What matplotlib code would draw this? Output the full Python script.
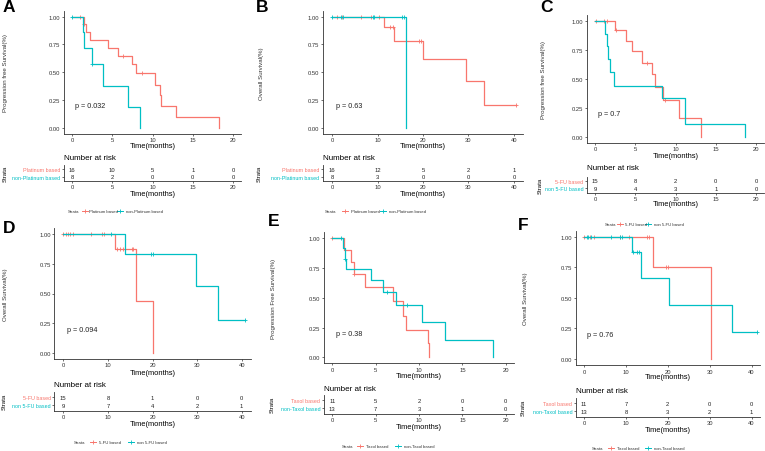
import matplotlib.pyplot as plt
from matplotlib.lines import Line2D

plt.rcParams['font.family'] = ['Liberation Sans', 'DejaVu Sans']

W, H = 765, 452
RED, CYAN = '#F8766D', '#00BFC4'
INK = '#333333'

# ---------------- data ----------------
# A: PFS, platinum vs non-platinum
a_names = ['Platinum based', 'non-Platinum based']
a_red_t = [1.5, 1.7, 2.2, 4.5, 5.7, 7.4, 8.0, 10.3, 10.9, 11.1, 12.9, 18.3]
a_red_s = [0.93, 0.86, 0.79, 0.72, 0.65, 0.57, 0.49, 0.39, 0.30, 0.20, 0.10, 0.0]
a_red_ct = [1.0, 1.5, 6.3, 8.7]
a_red_cs = [1.0, 0.93, 0.65, 0.49]
a_cyan_t = [1.3, 1.45, 2.45, 3.8, 7.0, 8.4]
a_cyan_s = [0.86, 0.72, 0.57, 0.38, 0.19, 0.0]
a_cyan_ct = [0.0, 2.5]
a_cyan_cs = [1.0, 0.57]
a_risk_red = [16, 10, 5, 1, 0]
a_risk_cyan = [8, 2, 0, 0, 0]

# B: OS, platinum vs non-platinum
b_names = ['Platinum based', 'non-Platinum based']
b_red_t = [11.5, 13.7, 19.9, 29.5, 33.5]
b_red_s = [0.91, 0.78, 0.62, 0.42, 0.21]
b_red_ct = [1.0, 2.2, 6.3, 8.6, 10.4, 12.7, 13.3, 19.2, 19.5, 40.5]
b_red_cs = [1, 1, 1, 1, 1, 0.91, 0.91, 0.78, 0.78, 0.21]
b_cyan_t = [16.2]
b_cyan_s = [0.0]
b_cyan_ct = [0.0, 1.9, 2.4, 8.9, 9.2, 15.3, 15.8]
b_cyan_cs = [1, 1, 1, 1, 1, 1, 1]
b_risk_red = [16, 12, 5, 2, 1]
b_risk_cyan = [8, 3, 0, 0, 0]

# C: PFS, 5-FU vs non 5-FU
c_names = ['5-FU based', 'non 5-FU based']
c_red_t = [2.5, 3.8, 4.6, 5.8, 7.1, 7.5, 8.5, 10.4, 13.2]
c_red_s = [0.92, 0.83, 0.74, 0.64, 0.54, 0.43, 0.32, 0.16, 0.0]
c_red_ct = [0.1, 1.1, 1.5, 2.6, 6.4, 8.7]
c_red_cs = [1, 1, 1, 0.92, 0.64, 0.32]
c_cyan_t = [1.25, 1.45, 1.6, 1.8, 2.4, 8.3, 11.2, 18.6]
c_cyan_s = [0.89, 0.78, 0.67, 0.56, 0.44, 0.33, 0.11, 0.0]
c_cyan_ct = []
c_cyan_cs = []
c_risk_red = [15, 8, 2, 0, 0]
c_risk_cyan = [9, 4, 3, 1, 0]

# D: OS, 5-FU vs non 5-FU
d_names = ['5-FU based', 'non 5-FU based']
d_red_t = [11.6, 16.2, 20.2]
d_red_s = [0.875, 0.44, 0.0]
d_red_ct = [0, 0.6, 1.1, 1.6, 2.2, 6.1, 8.6, 9.1, 12.0, 12.7, 13.4, 15.3, 15.7]
d_red_cs = [1, 1, 1, 1, 1, 1, 1, 1, 0.875, 0.875, 0.875, 0.875, 0.875]
d_cyan_t = [13.8, 29.7, 34.6]
d_cyan_s = [0.83, 0.56, 0.28]
d_cyan_ct = [10.7, 19.6, 20.0, 40.8]
d_cyan_cs = [1, 0.83, 0.83, 0.28]
d_risk_red = [15, 8, 1, 0, 0]
d_risk_cyan = [9, 7, 4, 2, 1]

# E: PFS, taxol vs non-taxol
e_names = ['Taxol based', 'non-Taxol based']
e_red_t = [1.4, 2.2, 2.5, 3.8, 7.0, 8.1, 8.5, 11.0, 11.1]
e_red_s = [0.9, 0.8, 0.7, 0.59, 0.47, 0.35, 0.23, 0.12, 0.0]
e_red_ct = [0.0, 2.5]
e_red_cs = [1.0, 0.7]
e_cyan_t = [1.2, 1.45, 1.6, 4.5, 5.8, 7.4, 10.3, 13.0, 18.5]
e_cyan_s = [0.92, 0.83, 0.74, 0.65, 0.55, 0.44, 0.30, 0.15, 0.0]
e_cyan_ct = [1.0, 1.45, 6.3, 8.65]
e_cyan_cs = [1.0, 0.83, 0.55, 0.44]
e_risk_red = [11, 5, 2, 0, 0]
e_risk_cyan = [13, 7, 3, 1, 0]

# F: OS, taxol vs non-taxol
f_names = ['Taxol based', 'non-Taxol based']
f_red_t = [16.4, 30.2]
f_red_s = [0.75, 0.0]
f_red_ct = [0.0, 1.4, 2.3, 8.6, 10.7, 15.1, 15.6, 19.5, 20.1]
f_red_cs = [1, 1, 1, 1, 1, 1, 1, 0.75, 0.75]
f_cyan_t = [11.5, 13.7, 20.3, 35.2]
f_cyan_s = [0.875, 0.66, 0.44, 0.22]
f_cyan_ct = [0.7, 1.0, 1.6, 6.4, 8.6, 9.0, 11.7, 12.7, 13.2, 41.3]
f_cyan_cs = [1, 1, 1, 1, 1, 1, 0.875, 0.875, 0.875, 0.22]
f_risk_red = [11, 7, 2, 0, 0]
f_risk_cyan = [13, 8, 3, 2, 1]

ticks20 = [0, 5, 10, 15, 20]
ticks40 = [0, 10, 20, 30, 40]
pfs_lab = 'Progression free Survival(%)'
os_lab = 'Overall Survival(%)'

panels = [
    dict(letter='A', ylab=pfs_lab, names=a_names, p='p = 0.032', xt=ticks20,
         red=(a_red_t, a_red_s, a_red_ct, a_red_cs), cyan=(a_cyan_t, a_cyan_s, a_cyan_ct, a_cyan_cs),
         risk=(a_risk_red, a_risk_cyan)),
    dict(letter='B', ylab=os_lab, names=b_names, p='p = 0.63', xt=ticks40,
         red=(b_red_t, b_red_s, b_red_ct, b_red_cs), cyan=(b_cyan_t, b_cyan_s, b_cyan_ct, b_cyan_cs),
         risk=(b_risk_red, b_risk_cyan)),
    dict(letter='C', ylab=pfs_lab, names=c_names, p='p = 0.7', xt=ticks20,
         red=(c_red_t, c_red_s, c_red_ct, c_red_cs), cyan=(c_cyan_t, c_cyan_s, c_cyan_ct, c_cyan_cs),
         risk=(c_risk_red, c_risk_cyan)),
    dict(letter='D', ylab=os_lab, names=d_names, p='p = 0.094', xt=ticks40,
         red=(d_red_t, d_red_s, d_red_ct, d_red_cs), cyan=(d_cyan_t, d_cyan_s, d_cyan_ct, d_cyan_cs),
         risk=(d_risk_red, d_risk_cyan)),
    dict(letter='E', ylab='Progression Free Survival(%)', names=e_names, p='p = 0.38', xt=ticks20,
         red=(e_red_t, e_red_s, e_red_ct, e_red_cs), cyan=(e_cyan_t, e_cyan_s, e_cyan_ct, e_cyan_cs),
         risk=(e_risk_red, e_risk_cyan)),
    dict(letter='F', ylab=os_lab, names=f_names, p='p = 0.76', xt=ticks40,
         red=(f_red_t, f_red_s, f_red_ct, f_red_cs), cyan=(f_cyan_t, f_cyan_s, f_cyan_ct, f_cyan_cs),
         risk=(f_risk_red, f_risk_cyan)),
]

# layout in pixels: main box, table box, text rows, legend x-positions
layouts = [
    dict(main=(64, 12, 241, 134.6), tab=(64, 165.5, 241, 182), nar=159, xl1=147, xl2=195,
         leg_y=212, leg=(68, 82, 89, 117, 126), let=(3, 8), ylab_x=6, strata_x=5),
    dict(main=(323, 12, 523, 134.6), tab=(323, 165.5, 523, 182), nar=159, xl1=147, xl2=195,
         leg_y=212, leg=(325, 342, 351, 380, 389), let=(256, 8), ylab_x=261, strata_x=259),
    dict(main=(587, 16, 764, 143.5), tab=(587, 177.5, 764, 193.5), nar=169, xl1=156, xl2=205,
         leg_y=225, leg=(605, 617, 625, 645, 654), let=(540, 8), ylab_x=544, strata_x=540),
    dict(main=(54.4, 229, 250.6, 360), tab=(54.4, 393, 250.6, 411.5), nar=386, xl1=374, xl2=425,
         leg_y=443, leg=(74, 90, 99, 128, 137), let=(3, 229), ylab_x=6, strata_x=4),
    dict(main=(323.6, 233.4, 514.4, 364.3), tab=(323.6, 396, 514.4, 414.5), nar=390, xl1=377, xl2=428,
         leg_y=447, leg=(342, 357, 366, 395, 404), let=(268, 222), ylab_x=273, strata_x=272),
    dict(main=(575.6, 231.6, 760, 366.1), tab=(575.6, 399, 760, 417.5), nar=392, xl1=378, xl2=431,
         leg_y=449, leg=(592, 608, 617, 645, 654), let=(518, 226), ylab_x=526, strata_x=523),
]

fig = plt.figure(figsize=(W / 100, H / 100), dpi=100)


def fbox(l, t, r, b):
    return [l / W, 1 - b / H, (r - l) / W, (b - t) / H]


def ftext(x, y, s, **kw):
    fig.text(x / W, 1 - y / H, s, **kw)


def style(ax, size=4.2):
    for side in ('top', 'right'):
        ax.spines[side].set_visible(False)
    for side in ('left', 'bottom'):
        ax.spines[side].set_color(INK)
        ax.spines[side].set_linewidth(0.6)
    ax.tick_params(length=1.5, width=0.5, pad=1.0, labelsize=size, colors=INK)


def km(ax, t_ev, s_ev, t_cen, s_cen, color):
    xs = [0.0] + list(t_ev)
    ys = [1.0] + list(s_ev)
    if t_cen and max(t_cen) > xs[-1]:
        xs.append(max(t_cen))
        ys.append(ys[-1])
    ax.step(xs, ys, where='post', color=color, lw=0.9)
    ax.plot(t_cen, s_cen, '+', color=color, ms=3, mew=0.6, ls='none')


for pn, lay in zip(panels, layouts):
    xt = pn['xt']
    step = xt[1] - xt[0]
    xlim = (-step / 5, xt[-1] + step / 5)

    # survival curves
    ax = fig.add_axes(fbox(*lay['main']))
    style(ax)
    km(ax, *pn['red'], RED)
    km(ax, *pn['cyan'], CYAN)
    ax.set_xlim(xlim)
    ax.set_ylim(-0.05, 1.05)
    ax.set_xticks(xt)
    ax.set_yticks([0, 0.25, 0.5, 0.75, 1.0])
    ax.set_yticklabels(['0.00', '0.25', '0.50', '0.75', '1.00'])
    ax.text(xt[-1] / 50, 0.2, pn['p'], fontsize=5.2, ha='left', va='center', color='#222222')

    l, t, r, b = lay['main']
    ftext((l + r) / 2, lay['xl1'], 'Time(months)', fontsize=5.4, ha='center', va='center')
    ftext(lay['ylab_x'], (t + b) / 2, pn['ylab'], fontsize=4.4, rotation=90,
          ha='center', va='center', color=INK)
    ftext(lay['let'][0], lay['let'][1], pn['letter'], fontsize=12.5, fontweight='bold',
          ha='left', va='center')

    # risk table
    tx = fig.add_axes(fbox(*lay['tab']))
    style(tx, size=3.9)
    tx.tick_params(axis='x', labelsize=4.2)
    tx.set_xlim(xlim)
    tx.set_ylim(0.4, 2.6)
    tx.set_xticks(xt)
    tx.set_yticks([2, 1])
    tx.set_yticklabels(pn['names'])
    for lab, col in zip(tx.get_yticklabels(), (RED, CYAN)):
        lab.set_color(col)
    for row, counts in zip((2, 1), pn['risk']):
        for x, n in zip(xt, counts):
            tx.text(x, row, str(n), fontsize=4.2, ha='center', va='center', color='#222222')
    l, t, r, b = lay['tab']
    ftext(l, lay['nar'], 'Number at risk', fontsize=5.8, ha='left', va='center')
    ftext((l + r) / 2, lay['xl2'], 'Time(months)', fontsize=5.4, ha='center', va='center')
    ftext(lay['strata_x'], (t + b) / 2, 'Strata', fontsize=4.3, rotation=90,
          ha='center', va='center')

    # legend
    sx, k1, t1, k2, t2 = lay['leg']
    ly = 1 - lay['leg_y'] / H
    ftext(sx, lay['leg_y'], 'Strata', fontsize=3.1, ha='left', va='center', color=INK)
    for kx, txx, col, name in ((k1, t1, RED, pn['names'][0]), (k2, t2, CYAN, pn['names'][1])):
        fig.add_artist(Line2D([kx / W, (kx + 6) / W], [ly, ly], color=col, lw=0.7,
                              transform=fig.transFigure))
        fig.add_artist(Line2D([(kx + 3) / W], [ly], color=col, marker='+', ms=2.5, mew=0.6,
                              transform=fig.transFigure))
        ftext(txx, lay['leg_y'], name, fontsize=3.1, ha='left', va='center', color=INK)

fig.savefig('out.png', dpi=100, facecolor='white')
